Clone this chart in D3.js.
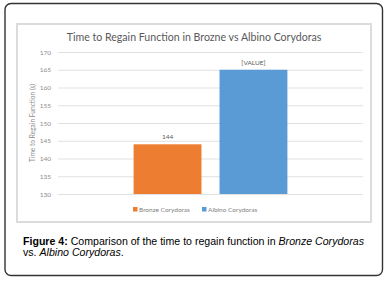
<!DOCTYPE html>
<html><head><meta charset="utf-8">
<script src="https://cdn.jsdelivr.net/npm/d3@7"></script>
<style>
html,body{margin:0;padding:0;background:#fff;}
svg{display:block;}
</style></head>
<body>
<svg id="c" width="386" height="283"></svg>
<script>
const title = "Time to Regain Function in Brozne vs Albino Corydoras";
const yAxisTitle = "Time to Regain Function (s)";
const category = ["Corydoras"];
const series = ["Bronze Corydoras", "Albino Corydoras"];
const values = [144, 165];
const dataLabels = ["144", "[VALUE]"];
const colors = ["#ED7D31", "#5B9BD5"];
const yTicks = [130, 135, 140, 145, 150, 155, 160, 165, 170];

const svg = d3.select("#c");
const chartFont = "Lato, 'Open Sans', sans-serif";

// outer rounded frame
svg.append("rect").attr("x",5).attr("y",3.5).attr("width",377.5).attr("height",272)
  .attr("rx",6).attr("fill","#fff").attr("stroke","#333").attr("stroke-width",1.4);

// inner chart frame
svg.append("rect").attr("x",17).attr("y",24).attr("width",354).attr("height",198)
  .attr("fill","#fff").attr("stroke","#dcdcdc").attr("stroke-width",2);

const y = d3.scaleLinear().domain([130,170]).range([194,52]);
const x1 = d3.scaleBand().domain(series).range([58,363]).paddingInner(0.21).paddingOuter(0.88);

// gridlines
const axis = d3.axisLeft(y).tickValues(yTicks).tickSize(-(363-58)).tickPadding(7);
const gAxis = svg.append("g").attr("transform","translate(58,0)").call(axis);
gAxis.select(".domain").remove();
gAxis.selectAll(".tick line").attr("stroke","#d9d9d9").attr("stroke-width",0.8);
gAxis.selectAll(".tick text").attr("fill","#8c8c8c").attr("font-size",6.5)
  .attr("font-family",chartFont);

// title
svg.append("text").attr("x",194).attr("y",41).attr("text-anchor","middle")
  .attr("font-family",chartFont).attr("font-size",10.6).attr("fill","#595959")
  .text(title);

// y axis title
svg.append("text").attr("transform","translate(35,123) rotate(-90)")
  .attr("text-anchor","middle").attr("font-family",chartFont).attr("font-size",6.6)
  .attr("fill","#8c8c8c").text(yAxisTitle);

// bars
svg.append("g").selectAll("rect").data(series).join("rect")
  .attr("x",d=>x1(d)).attr("width",x1.bandwidth())
  .attr("y",(d,i)=>y(values[i])).attr("height",(d,i)=>y(130)-y(values[i]))
  .attr("fill",(d,i)=>colors[i]);

// data labels
svg.append("g").selectAll("text").data(series).join("text")
  .attr("x",d=>x1(d)+x1.bandwidth()/2).attr("y",(d,i)=>y(values[i])-5)
  .attr("text-anchor","middle").attr("font-family",chartFont).attr("font-size",6.5)
  .attr("fill","#595959").text((d,i)=>dataLabels[i]);

// legend
const legX = [133, 202];
const leg = svg.append("g").selectAll("g").data(series).join("g")
  .attr("transform",(d,i)=>`translate(${legX[i]},210)`);
leg.append("rect").attr("x",0).attr("y",-3).attr("width",4.5).attr("height",4.5)
  .attr("fill",(d,i)=>colors[i]);
leg.append("text").attr("x",6).attr("y",2).attr("font-family",chartFont)
  .attr("font-size",6.5).attr("fill","#7f7f7f").text(d=>d);

// caption
const cap = svg.append("text").attr("font-family","'Liberation Sans', Arial, sans-serif")
  .attr("font-size",10.6).attr("fill","#000");
const l1 = cap.append("tspan").attr("x",23).attr("y",245);
l1.append("tspan").attr("font-weight","bold").text("Figure 4:");
l1.append("tspan").text(" Comparison of the time to regain function in ");
l1.append("tspan").attr("font-style","italic").text("Bronze Corydoras");
const l2 = cap.append("tspan").attr("x",23).attr("y",256);
l2.append("tspan").text("vs. ");
l2.append("tspan").attr("font-style","italic").text("Albino Corydoras");
l2.append("tspan").text(".");
</script>
</body></html>
